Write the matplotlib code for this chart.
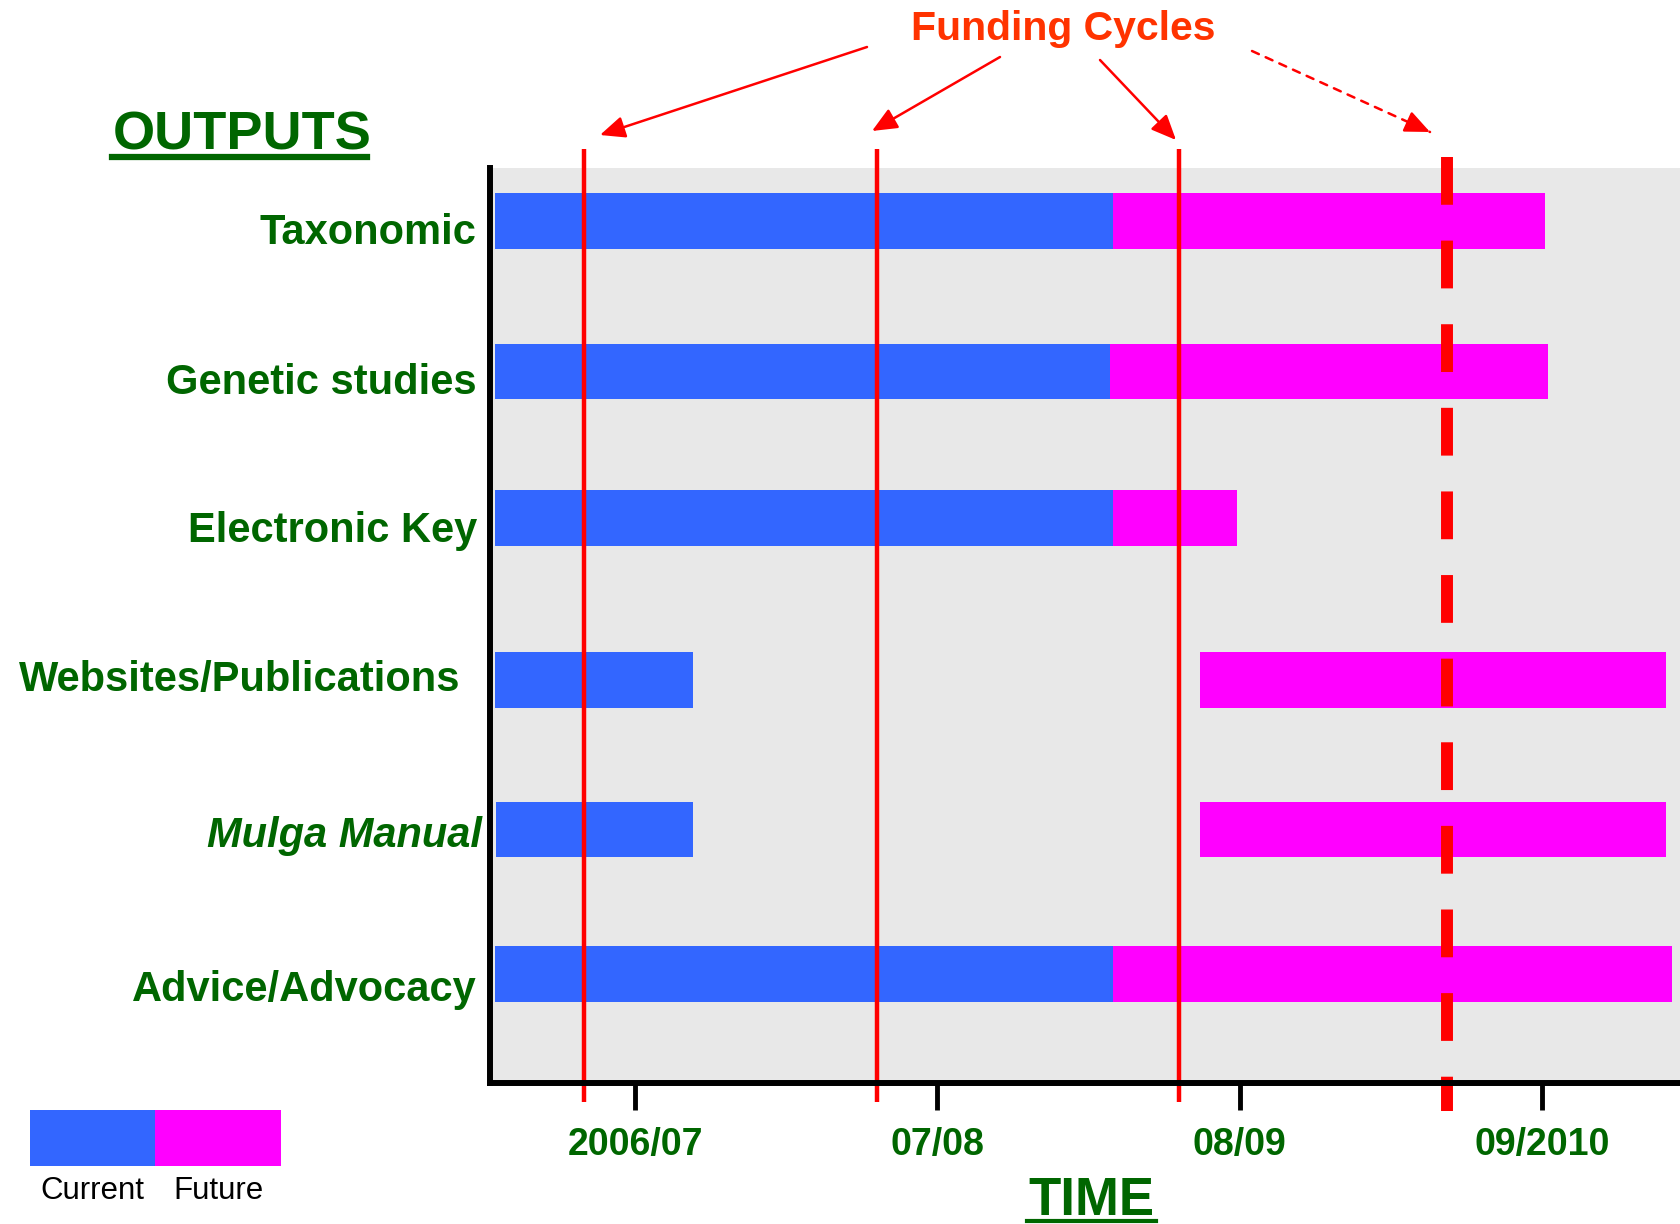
#!/usr/bin/env python3
"""Outputs timeline against funding cycles."""

import matplotlib

matplotlib.use("Agg")
import matplotlib.pyplot as plt
from matplotlib.patches import FancyArrowPatch

# --- data ---------------------------------------------------------------
outputs = [
    "Taxonomic",
    "Genetic studies",
    "Electronic Key",
    "Websites/Publications",
    "Mulga Manual",
    "Advice/Advocacy",
]
current_start = [-0.465, -0.465, -0.465, -0.465, -0.46, -0.465]
current_end = [1.58, 1.57, 1.58, 0.19, 0.19, 1.58]
future_start = [1.58, 1.57, 1.58, 1.87, 1.87, 1.58]
future_end = [3.01, 3.02, 1.99, 3.41, 3.41, 3.43]

periods = ["2006/07", "07/08", "08/09", "09/2010"]
funding_cycles = [-0.17, 0.80, 1.80]
next_cycle = 2.685

legend_labels = ["Current", "Future"]

# --- layout / style -----------------------------------------------------
W, H = 1681, 1224
BLUE = "#3366FF"
MAGENTA = "#FF00FF"
GREEN = "#006600"
BG = "#E8E8E8"
FONT = "Liberation Sans"

row_pos = [0, 1, 1.97, 3.05, 4.04, 5]
label_base = [0.153, 1.149, 2.131, 3.121, 4.157, 5.179]
label_right = [476, 477, 477, 460, 482, 477]


def fx(px):
    return px / W


def fy(py):
    return 1 - py / H


plt.rcParams["font.family"] = [FONT, "DejaVu Sans"]

fig = plt.figure(figsize=(W / 100, H / 100), dpi=100)
ax = fig.add_axes([fx(490), fy(1083), fx(W - 490), (1083 - 168) / H])
ax.set_facecolor(BG)

widths_cur = [e - s for s, e in zip(current_start, current_end)]
widths_fut = [e - s for s, e in zip(future_start, future_end)]
ax.barh(row_pos, widths_cur, left=current_start, height=0.37, color=BLUE, zorder=2)
ax.barh(row_pos, widths_fut, left=future_start, height=0.37, color=MAGENTA, zorder=2)

for x in funding_cycles:
    ax.plot([x, x], [-0.478, 5.85], color="red", lw=3.2,
            solid_capstyle="butt", clip_on=False, zorder=4)
ax.plot([next_cycle, next_cycle], [-0.425, 5.91], color="red", lw=8.6,
        dashes=(4, 3), dash_capstyle="butt", clip_on=False, zorder=4)

ax.set_xlim(-0.48, 3.46)
ax.set_ylim(5.724, -0.352)

ax.set_xticks(range(len(periods)))
ax.set_xticklabels(periods, fontweight="bold")
ax.tick_params(axis="x", length=19.5, width=3.5, direction="out", pad=12,
               labelsize=27, labelcolor=GREEN, color="black")
ax.set_yticks([])
for side in ("top", "right"):
    ax.spines[side].set_visible(False)
for side in ("left", "bottom"):
    ax.spines[side].set_linewidth(4.3)
    ax.spines[side].set_zorder(5)

# row labels
tr = ax.get_yaxis_transform()
for name, yb, xr in zip(outputs, label_base, label_right):
    ax.text((xr - 490) / (W - 490), yb, name, transform=tr, ha="right",
            va="baseline", fontsize=30, fontweight="bold", color=GREEN,
            style="italic" if name == "Mulga Manual" else "normal")

# headings
fig.text(fx(113), fy(149), "OUTPUTS", ha="left", va="baseline", fontsize=39,
         fontweight="bold", color=GREEN)
fig.add_artist(plt.Line2D([fx(112), fx(367)], [fy(157), fy(157)], lw=4.5,
                          color=GREEN))
fig.text(fx(1091), fy(1215), "TIME", ha="center", va="baseline", fontsize=38,
         fontweight="bold", color=GREEN)
fig.add_artist(plt.Line2D([fx(1027), fx(1156)], [fy(1221), fy(1221)], lw=3,
                          color=GREEN))

fig.text(fx(1063), fy(40), "Funding Cycles", ha="center", va="baseline",
         fontsize=29.5, fontweight="bold", color="#FF3300")

HEAD = "-|>,head_length=0.8,head_width=0.35"
arrows = [
    ((867, 47), (600, 135), False),
    ((1000, 57), (872, 131), False),
    ((1100, 60), (1176, 140), False),
    ((1252, 51), (1430, 132), True),
]
for (x0, y0), (x1, y1), dashed in arrows:
    if dashed:
        # dashed shaft, solid head
        fig.add_artist(FancyArrowPatch(
            (fx(x0), fy(y0)), (fx(x1), fy(y1)), transform=fig.transFigure,
            arrowstyle="-", color="red", lw=1.8, linestyle=(0, (3, 3)),
            shrinkA=0, shrinkB=0))
        t = 0.12
        xs, ys = x1 - t * (x1 - x0), y1 - t * (y1 - y0)
        fig.add_artist(FancyArrowPatch(
            (fx(xs), fy(ys)), (fx(x1), fy(y1)), transform=fig.transFigure,
            arrowstyle=HEAD, mutation_scale=19, color="red", lw=1.8,
            shrinkA=0, shrinkB=0))
    else:
        fig.add_artist(FancyArrowPatch(
            (fx(x0), fy(y0)), (fx(x1), fy(y1)), transform=fig.transFigure,
            arrowstyle=HEAD, mutation_scale=19, color="red", lw=1.8,
            shrinkA=0, shrinkB=0))

# legend
lax = fig.add_axes([fx(30), fy(1166), fx(281 - 30), (1166 - 1110) / H])
lax.bar(range(len(legend_labels)), [1, 1], width=1, color=[BLUE, MAGENTA])
lax.set_xlim(-0.5, 1.5)
lax.set_ylim(0, 1)
lax.set_xticks(range(len(legend_labels)))
lax.set_xticklabels(legend_labels)
lax.tick_params(axis="x", length=0, pad=7, labelsize=22.5)
lax.set_yticks([])
for s in lax.spines.values():
    s.set_visible(False)

fig.savefig("out.png", dpi=100)
